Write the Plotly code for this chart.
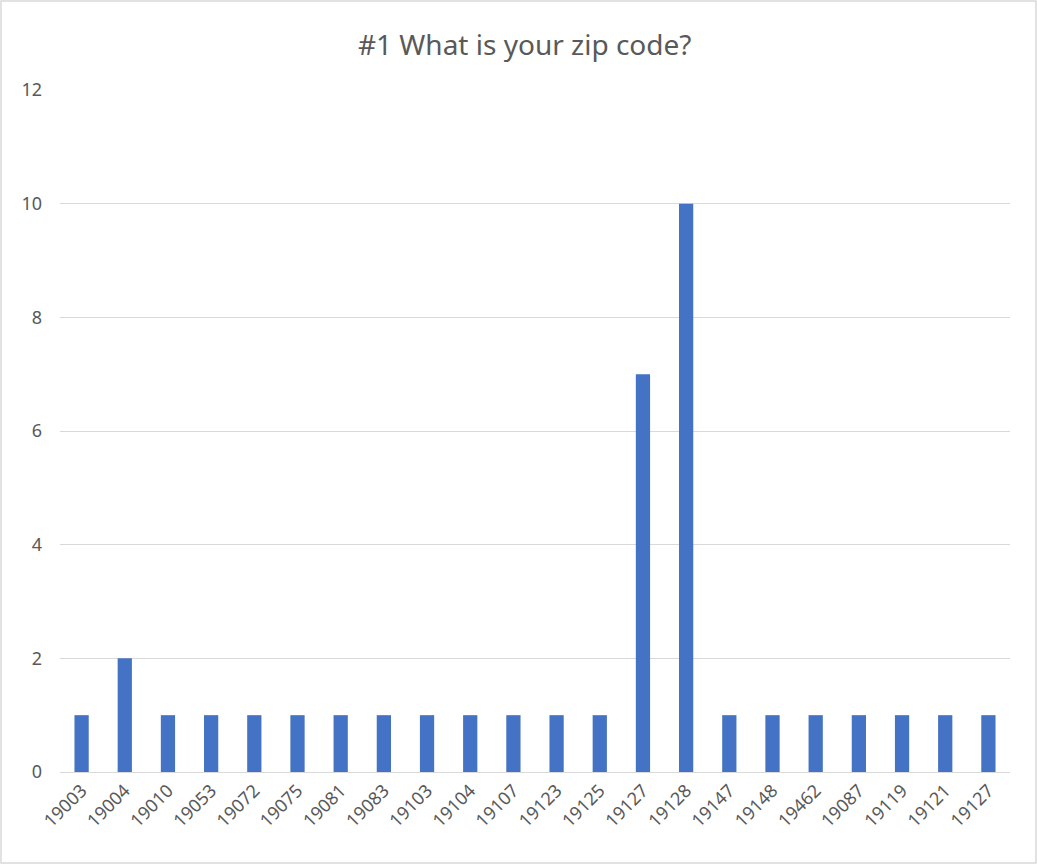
import plotly.graph_objects as go

# Survey responses per zip code
zip_codes = ["19003", "19004", "19010", "19053", "19072", "19075", "19081", "19083",
             "19103", "19104", "19107", "19123", "19125", "19127", "19128", "19147",
             "19148", "19462", "19087", "19119", "19121", "19127"]
counts = [1, 2, 1, 1, 1, 1, 1, 1, 1, 1, 1, 1, 1, 7, 10, 1, 1, 1, 1, 1, 1, 1]
y_ticks = [0, 2, 4, 6, 8, 10, 12]

positions = list(range(len(zip_codes)))

W, H = 1037, 864
ML, MR, MT, MB = 60, 27, 90, 92

fig = go.Figure(go.Bar(
    x=positions,
    y=counts,
    width=0.33,
    marker=dict(color="#4472C4", line=dict(width=0)),
    hoverinfo="y",
))

pw = W - ML - MR
ph = H - MT - MB

fig.update_layout(
    width=W, height=H,
    margin=dict(l=ML, r=MR, t=MT, b=MB),
    paper_bgcolor="white",
    plot_bgcolor="white",
    font=dict(family="Noto Sans, Open Sans, sans-serif", color="#595959", size=18),
    title=dict(text="#1 What is your zip code?", x=0.506, xanchor="center",
               y=1 - 45 / H, yanchor="middle",
               font=dict(size=28, color="#595959")),
    showlegend=False,
    xaxis=dict(
        tickmode="array", tickvals=positions, ticktext=zip_codes,
        tickangle=-45, range=[-0.5, len(zip_codes) - 0.5],
        showgrid=False, showline=True, linecolor="#d9d9d9", linewidth=1,
        ticks="", zeroline=False, tickfont=dict(size=18),
    ),
    yaxis=dict(
        range=[0, 12], tickvals=y_ticks,
        showgrid=True, gridcolor="#d9d9d9", gridwidth=1,
        zeroline=False, showline=False, ticks="",
        ticklabelstandoff=17, tickfont=dict(size=18),
    ),
    shapes=[dict(
        type="rect", xref="paper", yref="paper",
        x0=-(ML - 1) / pw, x1=1 + (MR - 1) / pw,
        y0=-(MB - 1) / ph, y1=1 + (MT - 1) / ph,
        line=dict(color="#d9d9d9", width=1.5), fillcolor="rgba(0,0,0,0)",
        layer="below",
    )],
)

fig.write_html("out.html")
